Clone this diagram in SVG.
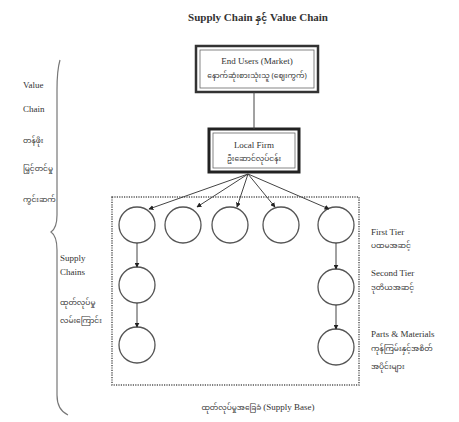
<svg xmlns="http://www.w3.org/2000/svg" width="459" height="422" viewBox="0 0 459 422">
<defs>
<style>
.t{font-family:"Liberation Serif",serif;fill:#333;font-size:9px}
.m{font-family:"Noto Sans Myanmar","Padauk","Liberation Serif",serif;fill:#333;font-size:7.5px}
.title{font-family:"Liberation Serif","Noto Sans Myanmar",serif;fill:#333;font-size:11px;font-weight:bold}
.c{fill:#fff;stroke:#555;stroke-width:1.3}
.ln{stroke:#444;stroke-width:1;fill:none}
</style>
<marker id="ah" viewBox="0 0 8 8" refX="7" refY="4" markerWidth="5" markerHeight="5" orient="auto"><path d="M0,0 L8,4 L0,8 z" fill="#222"/></marker>
</defs>
<rect width="459" height="422" fill="#fff"/>
<text class="title" x="258" y="21" text-anchor="middle">Supply Chain <tspan font-size="9">နှင့်</tspan> Value Chain</text>

<g id="brace">
<path d="M60,60 Q57,70 57,90 L57,215 Q57,228 51,232 Q57,236 57,250 L57,395 Q57,410 68,415" fill="none" stroke="#777" stroke-width="1.2"/>
</g>

<g id="left-labels">
<text class="t" x="23" y="88">Value</text>
<text class="t" x="23" y="112">Chain</text>
<text class="m" x="23" y="143">တန်ဖိုး</text>
<text class="m" x="23" y="171">မြှင့်တင်မှု</text>
<text class="m" x="23" y="202">ကွင်းဆက်</text>
<text class="t" x="60" y="261">Supply</text>
<text class="t" x="60" y="275">Chains</text>
<text class="m" x="60" y="305">ထုတ်လုပ်မှု</text>
<text class="m" x="60" y="323">လမ်းကြောင်း</text>
</g>

<g id="end-users">
<rect x="196" y="46" width="122" height="46" fill="#fff" stroke="#333" stroke-width="2.5"/>
<rect x="200" y="50" width="114" height="38" fill="none" stroke="#666" stroke-width="0.8"/>
<text class="t" x="257" y="64" text-anchor="middle">End Users (Market)</text>
<text class="m" x="257" y="78" text-anchor="middle">နောက်ဆုံးစားသုံးသူ (ဈေးကွက်)</text>
</g>

<g id="local-firm">
<rect x="209" y="129" width="90" height="43" fill="#fff" stroke="#222" stroke-width="3"/>
<rect x="213" y="133" width="82" height="35" fill="none" stroke="#666" stroke-width="0.8"/>
<text class="t" x="254" y="148" text-anchor="middle">Local Firm</text>
<text class="m" x="254" y="161" text-anchor="middle">ဦးဆောင်လုပ်ငန်း</text>
</g>

<g id="supply-base">
<rect x="112" y="197" width="247" height="188" fill="none" stroke="#555" stroke-width="1.5" stroke-dasharray="1.2,1.2"/>
<text class="m" x="258" y="410" text-anchor="middle">ထုတ်လုပ်မှုအခြေခံ <tspan class="t" font-size="8.5">(Supply Base)</tspan></text>
</g>

<g id="circles">
<circle id="c1" class="c" cx="137" cy="225" r="18"/>
<circle id="c2" class="c" cx="183" cy="225" r="18"/>
<circle id="c3" class="c" cx="230" cy="225" r="18"/>
<circle id="c4" class="c" cx="281" cy="225" r="18"/>
<circle id="c5" class="c" cx="336" cy="225" r="18"/>
<circle id="c6" class="c" cx="137" cy="285" r="18"/>
<circle id="c7" class="c" cx="336" cy="287" r="18"/>
<circle id="c8" class="c" cx="137" cy="345" r="18"/>
<circle id="c9" class="c" cx="336" cy="347" r="18"/>
</g>

<g id="right-labels">
<text class="t" x="371" y="235">First Tier</text>
<text class="m" x="371" y="248">ပထမအဆင့်</text>
<text class="t" x="371" y="276">Second Tier</text>
<text class="m" x="371" y="290">ဒုတိယအဆင့်</text>
<text class="t" x="371" y="337">Parts &amp; Materials</text>
<text class="m" x="371" y="351">ကုန်ကြမ်းနှင့်အစိတ်</text>
<text class="m" x="371" y="369">အပိုင်းများ</text>
</g>

<g id="connectors">
<line class="ln" x1="254" y1="92" x2="254" y2="129"/>
<line class="ln" x1="248" y1="174" x2="149" y2="209" marker-end="url(#ah)"/>
<line class="ln" x1="248" y1="174" x2="197" y2="207" marker-end="url(#ah)"/>
<line class="ln" x1="248" y1="174" x2="237" y2="207" marker-end="url(#ah)"/>
<line class="ln" x1="248" y1="174" x2="275" y2="207" marker-end="url(#ah)"/>
<line class="ln" x1="248" y1="174" x2="329" y2="209" marker-end="url(#ah)"/>
<line class="ln" x1="137" y1="243" x2="137" y2="267" marker-end="url(#ah)"/>
<line class="ln" x1="137" y1="303" x2="137" y2="327" marker-end="url(#ah)"/>
<line class="ln" x1="336" y1="243" x2="336" y2="269" marker-end="url(#ah)"/>
<line class="ln" x1="336" y1="305" x2="336" y2="329" marker-end="url(#ah)"/>
</g>
</svg>
